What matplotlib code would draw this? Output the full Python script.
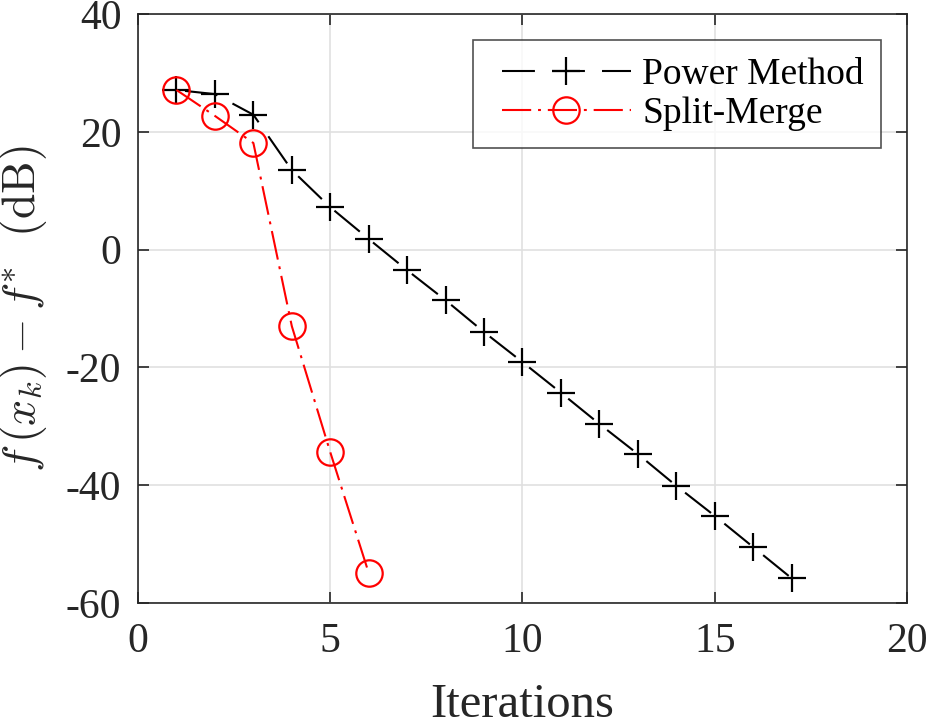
import matplotlib.pyplot as plt
import numpy as np
from matplotlib.legend_handler import HandlerLine2D

plt.rcParams['font.family'] = ['Liberation Serif', 'DejaVu Serif']
plt.rcParams['mathtext.fontset'] = 'cm'
plt.rcParams['axes.unicode_minus'] = False

# iterations
it_power = [1, 2, 3, 4, 5, 6, 7, 8, 9, 10, 11, 12, 13, 14, 15, 16, 17]
it_split = [1, 2, 3, 4, 5, 6]

# f(x_k) - f* in dB
power = [27.1, 26.4, 22.9, 13.5, 7.2, 1.8, -3.5, -8.6, -14.0, -19.1,
         -24.3, -29.6, -34.7, -40.1, -45.2, -50.5, -55.8]
split = [27.1, 22.7, 18.1, -13.0, -34.4, -54.9]

dash_pm = (15.8, 8.2)            # matlab '--'
dash_sm = (14.0, 3.3, 1.4, 3.3)  # matlab '-.'


class InsetLine(HandlerLine2D):
    # leave a little room before the handle, like the matlab legend
    def create_artists(self, legend, orig_handle, xdescent, ydescent,
                       width, height, fontsize, trans):
        pad = 0.08 * width
        return super().create_artists(legend, orig_handle, xdescent - pad,
                                      ydescent, width - pad, height,
                                      fontsize, trans)


fig = plt.figure(figsize=(9.34, 7.27), dpi=100)
ax = fig.add_axes([0.1478, 0.1706, 0.8232, 0.8101])

l1, = ax.plot(it_power, power, color='black', linestyle=(19.9, dash_pm),
              linewidth=1.5, marker='+', markersize=20, markeredgewidth=1.6,
              label='Power Method')
l2, = ax.plot(it_split, split, color='red', linestyle=(0, dash_sm),
              linewidth=1.5, marker='o', markersize=19, markerfacecolor='none',
              markeredgewidth=1.6, label='Split-Merge')

ax.set_xlim(0, 20)
ax.set_ylim(-60, 40)
ax.set_xticks([0, 5, 10, 15, 20])
ax.set_yticks([-60, -40, -20, 0, 20, 40])
ax.grid(True, color='#e0e0e0', linewidth=1.2)
ax.set_axisbelow(True)
ax.tick_params(direction='in', labelsize=30, length=8, width=1.2,
               top=True, right=True, colors='#262626', labelcolor='#262626')
ax.tick_params(axis='x', pad=14)
ax.tick_params(axis='y', pad=12)
for s in ax.spines.values():
    s.set_color('#262626')
    s.set_linewidth(1.2)

ax.set_xlabel('Iterations', fontsize=35, color='#262626', labelpad=16)
ax.set_ylabel(r'$f\,(x_k) - f^{*}\ \ (\mathrm{dB})$', fontsize=33,
              color='#262626', labelpad=12)

leg = ax.legend(loc='upper right', fontsize=27, frameon=True, fancybox=False,
                edgecolor='#262626', borderpad=0.45, handlelength=3.75,
                handletextpad=0.3, labelspacing=0.12, borderaxespad=0.7,
                handler_map={l1: InsetLine(), l2: InsetLine()})
leg.get_frame().set_linewidth(1.2)
leg.get_lines()[0].set_linestyle((0, dash_pm))
leg.get_lines()[1].set_linestyle((0, dash_sm))

fig.savefig('out.png', dpi=100)
